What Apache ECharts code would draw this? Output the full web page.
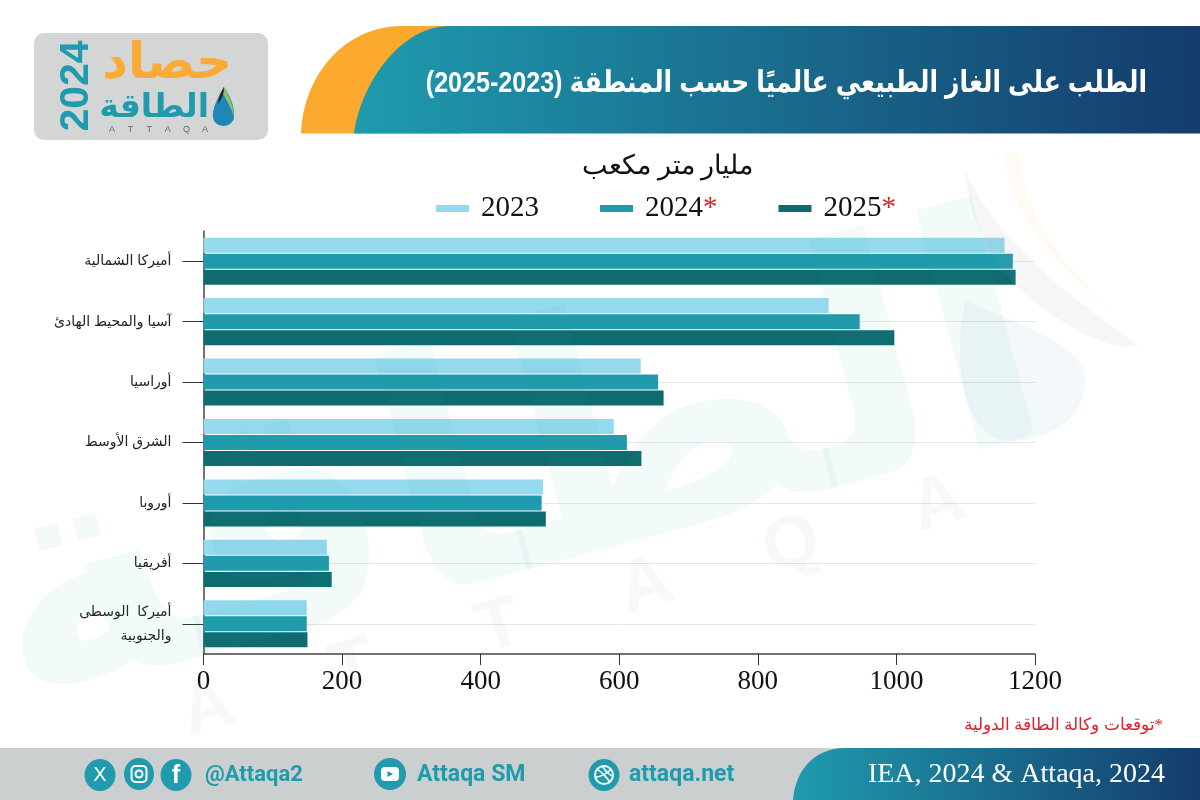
<!DOCTYPE html>
<html><head><meta charset="utf-8">
<style>html,body{margin:0;padding:0;background:#fff}#c{width:1200px;height:800px}</style>
<script src="https://cdn.jsdelivr.net/npm/echarts@6/dist/echarts.min.js"></script>
</head><body><div id="c"></div>
<script>
const categories = ['أميركا الشمالية','آسيا والمحيط الهادئ','أوراسيا','الشرق الأوسط','أوروبا','أفريقيا','أميركا  الوسطى\nوالجنوبية'];
const years = ['2023','2024','2025'];
const values2023 = [1156,902,631,592,490,178,149];
const values2024 = [1168,947,656,611,488,181,149];
const values2025 = [1172,997,664,632,494,185,150];
const xTicks = [0,200,400,600,800,1000,1200];
const colors = ['#95d9ee','#1f9bad','#0e6b70'];
const SANS = '"Liberation Sans","DejaVu Sans",sans-serif';
const SERIF = '"Liberation Serif","DejaVu Serif",serif';
const grad = () => new echarts.graphic.LinearGradient(0,0,1,0,[{offset:0,color:'#1f9bad'},{offset:1,color:'#143c6c'}]);
const chart = echarts.init(document.getElementById('c'),null,{renderer:'canvas'});
let pathCount=0;
function P(d,style,extra){const name='shapePath'+(pathCount++);echarts.graphic.registerShape(name,echarts.graphic.extendPath(d,{}));return Object.assign({type:name,silent:true,style},extra||{});}
function txt(x,y,text,font,fill,align,extra){return Object.assign({type:'text',x,y,silent:true,style:{text,font,fill,align:align||'center',verticalAlign:'middle'}},extra||{});}
function circle(cx,cy,rx,ry){return {type:'ellipse',silent:true,shape:{cx,cy,rx,ry},style:{fill:'#1f9bad'}};}
const graphics=[
 // watermark
 txt(515,480,'الطاقة','bold 325px '+SANS,'rgba(31,155,173,0.055)','center',{rotation:0.26,z:10}),
 ...['A','T','T','A','Q','A'].map((c,i)=>txt(208+i*146,710-i*41,c,'bold 72px '+SANS,'rgba(120,130,140,0.06)','center',{rotation:0.3,z:10})),
 P('M965 170C970 240 1010 290 1060 320C1090 340 1120 350 1138 345C1090 310 1000 250 965 170Z',{fill:'rgba(150,160,175,0.09)'},{z:10}),
 P('M1005 152C1005 210 1060 270 1110 310C1060 260 1020 210 1020 152Z',{fill:'rgba(250,190,120,0.08)'},{z:10}),
 P('M965 300C950 380 970 430 1000 440C1030 445 1085 430 1085 380C1085 345 1030 330 965 300Z',{fill:'rgba(31,120,173,0.055)'},{z:10}),
 // logo
 {type:'rect',silent:true,shape:{x:34,y:33,width:234,height:107,r:10},style:{fill:'#d4d6d6'}},
 txt(232,64,'حصاد','bold 50px '+SANS,'#fbaa33','right'),
 txt(209,108,'الطاقة','bold 33px '+SANS,'#1f9bad','right'),
 txt(77,86,'2024','bold 41px '+SANS,'#1f9bad','center',{rotation:Math.PI/2}),
 ...['A','T','T','A','Q','A'].map((c,i)=>txt(112+i*18.6,130,c,'9px '+SANS,'#666')),
 P('M224 87C216 100 212 110 213 118C215 128 231 129 234 118C235 106 230 96 224 87Z',{fill:'#1f86b8'}),
 P('M224 87C229 96 234 106 234 118C232 108 226 100 222 92Z',{fill:'#8fc25a'}),
 P('M224 87C220 94 218 100 218 104C222 98 224 94 224 87Z',{fill:'#222'}),
 // header
 P('M301 133.500C303 75 345 26 402 26L460 26L460 133.500Z',{fill:'#fba92f'}),
 P('M354 133.500C360 85 400 26 449 26L1200 26L1200 133.500Z',{fill:grad()}),
 txt(1147,84,'\u202Bالطلب على الغاز الطبيعي عالميًا حسب المنطقة (2023-2025)\u202C','bold 30px '+SANS,'#fff','right',{scaleX:0.836}),
 // subtitle
 txt(667.5,167,'مليار متر مكعب','26.5px '+SERIF,'#111'),
 // note
 txt(1163,726,'\u202B*توقعات وكالة الطاقة الدولية\u202C','17px '+SERIF,'#e0202c','right'),
 // footer
 {type:'rect',silent:true,shape:{x:0,y:748,width:1200,height:52},style:{fill:'#cbcfcf'}},
 P('M793 800C795 770 815 748 845 748L1200 748L1200 800Z',{fill:grad()}),
 txt(1165,775,'IEA, 2024 & Attaqa, 2024','28px '+SERIF,'#fff','right'),
 circle(100,775,15.5,16),circle(139,774,15,16),circle(176,775,15.5,16),circle(390,774,16,16),circle(604,775,15.5,16),
 txt(100,775,'X','20px '+SANS,'#fff'),
 {type:'rect',silent:true,shape:{x:131.5,y:766,width:15,height:16,r:4},style:{fill:'none',stroke:'#fff',lineWidth:2}},
 {type:'circle',silent:true,shape:{cx:139,cy:774,r:3.5},style:{fill:'none',stroke:'#fff',lineWidth:2}},
 txt(176,776,'f','bold 25px '+SANS,'#fff'),
 {type:'rect',silent:true,shape:{x:381,y:767,width:18,height:14,r:4},style:{fill:'#fff'}},
 {type:'polygon',silent:true,shape:{points:[[387.5,771],[387.5,777],[393,774]]},style:{fill:'#1f9bad'}},
 {type:'circle',silent:true,shape:{cx:604,cy:775,r:9},style:{fill:'none',stroke:'#fff',lineWidth:2}},
 P('M597 769C603 773 609 780 610 783M596 777C601 777 609 772 611 769M602 766C606 772 611 776 613 776',{fill:'none',stroke:'#fff',lineWidth:1.5}),
 txt(205,775,'@Attaqa2','bold 22px "Roboto",sans-serif','#1f9bad','left'),
 txt(417,775,'Attaqa SM','bold 23px "Roboto",sans-serif','#1f9bad','left'),
 txt(629,775,'attaqa.net','bold 23px "Roboto",sans-serif','#1f9bad','left')
];
const seriesValues=[values2023,values2024,values2025];
chart.setOption({
 animation:false,
 backgroundColor:'#fff',
 textStyle:{fontFamily:SERIF},
 grid:{left:203.5,right:165,top:231,bottom:146,containLabel:false},
 legend:{top:194,left:436,padding:0,itemWidth:33,itemHeight:7,itemGap:61,icon:'rect',
  data:years,
  formatter:n=>n==='2023'?`{a|${n}}`:`{a|${n}}{s|*}`,
  textStyle:{padding:[0,0,0,7],rich:{a:{fontFamily:SERIF,fontSize:29,color:'#111'},s:{fontFamily:SERIF,fontSize:29,color:'#e0202c'}}}},
 xAxis:{type:'value',min:xTicks[0],max:xTicks[xTicks.length-1],interval:200,
  axisLine:{show:true,onZero:false,lineStyle:{color:'#444',width:1.5}},
  axisTick:{show:true,length:11,lineStyle:{color:'#333',width:1}},
  axisLabel:{fontFamily:SERIF,fontSize:27,color:'#111',margin:14,formatter:v=>String(v)},
  splitLine:{show:false}},
 yAxis:{type:'category',inverse:true,data:categories,
  axisLine:{show:true,lineStyle:{color:'#444',width:1.5}},
  axisTick:{show:true,alignWithLabel:true,length:21,lineStyle:{color:'#333',width:1}},
  axisLabel:{fontFamily:SANS,fontSize:14,color:'#222',margin:32,lineHeight:24,align:'right'},
  splitLine:{show:true,alignWithLabel:true,lineStyle:{color:'#e4e6e8',width:1}}},
 series:years.map((y,i)=>({name:y,type:'bar',barWidth:15,barGap:'7%',data:seriesValues[i],itemStyle:{color:colors[i]},z:3})),
 graphic:{elements:graphics}
});
</script></body></html>
